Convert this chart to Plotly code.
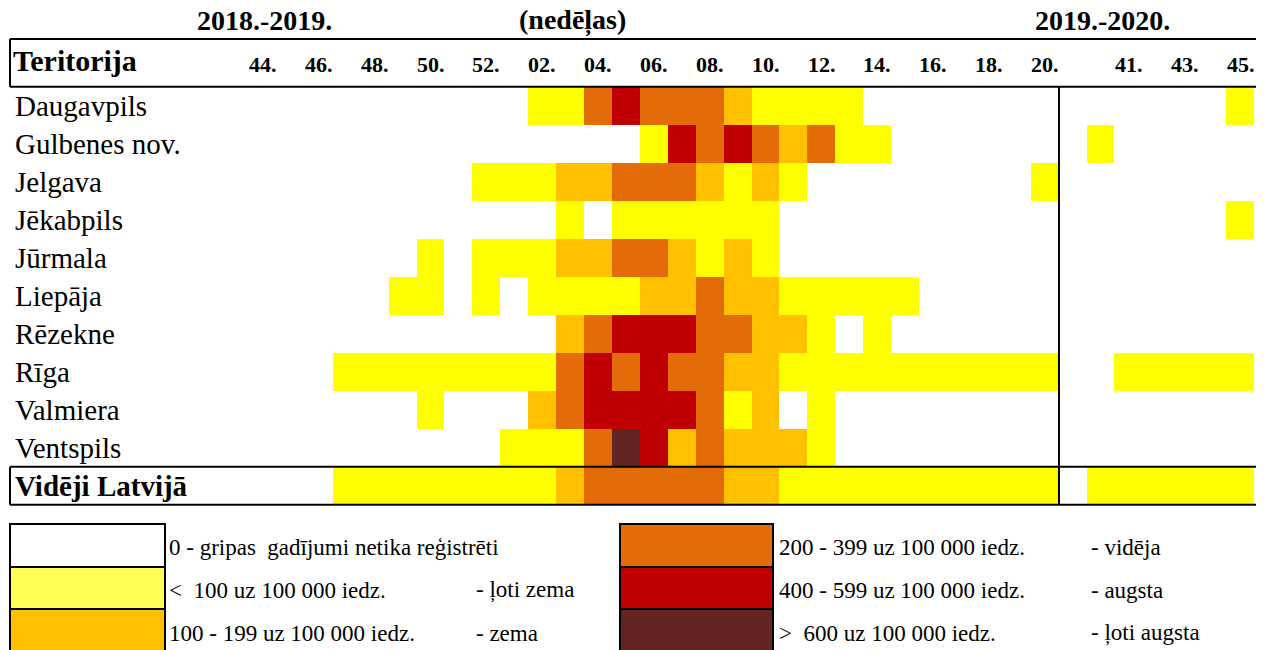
import plotly.graph_objects as go

# ---------------- data ----------------
territories = ["Daugavpils", "Gulbenes nov.", "Jelgava", "Jēkabpils", "Jūrmala",
               "Liepāja", "Rēzekne", "Rīga", "Valmiera", "Ventspils", "Vidēji Latvijā"]

weeks_1819 = ["44", "45", "46", "47", "48", "49", "50", "51", "52",
              "01", "02", "03", "04", "05", "06", "07", "08", "09", "10",
              "11", "12", "13", "14", "15", "16", "17", "18", "19", "20"]
weeks_1920 = ["40", "41", "42", "43", "44", "45"]

# intensity level per week: 0 none, 1 very low, 2 low, 3 medium, 4 high, 5 very high
daugavpils_1819 = [0,0,0,0,0,0,0,0,0,0, 1,1,3,4,3,3,3,2,1,1, 1,1,0,0,0,0,0,0,0]
gulbenes_1819   = [0,0,0,0,0,0,0,0,0,0, 0,0,0,0,1,4,3,4,3,2, 3,1,1,0,0,0,0,0,0]
jelgava_1819    = [0,0,0,0,0,0,0,0,1,1, 1,2,2,3,3,3,2,1,2,1, 0,0,0,0,0,0,0,0,1]
jekabpils_1819  = [0,0,0,0,0,0,0,0,0,0, 0,1,0,1,1,1,1,1,1,0, 0,0,0,0,0,0,0,0,0]
jurmala_1819    = [0,0,0,0,0,0,1,0,1,1, 1,2,2,3,3,2,1,2,1,0, 0,0,0,0,0,0,0,0,0]
liepaja_1819    = [0,0,0,0,0,1,1,0,1,0, 1,1,1,1,2,2,3,2,2,1, 1,1,1,1,0,0,0,0,0]
rezekne_1819    = [0,0,0,0,0,0,0,0,0,0, 0,2,3,4,4,4,3,3,2,2, 1,0,1,0,0,0,0,0,0]
riga_1819       = [0,0,0,1,1,1,1,1,1,1, 1,3,4,3,4,3,3,2,2,1, 1,1,1,1,1,1,1,1,1]
valmiera_1819   = [0,0,0,0,0,0,1,0,0,0, 2,3,4,4,4,4,3,1,2,0, 1,0,0,0,0,0,0,0,0]
ventspils_1819  = [0,0,0,0,0,0,0,0,0,1, 1,1,3,5,4,2,3,2,2,2, 1,0,0,0,0,0,0,0,0]
latvija_1819    = [0,0,0,1,1,1,1,1,1,1, 1,2,3,3,3,3,3,2,2,1, 1,1,1,1,1,1,1,1,1]

daugavpils_1920 = [0,0,0,0,0,1]
gulbenes_1920   = [1,0,0,0,0,0]
jelgava_1920    = [0,0,0,0,0,0]
jekabpils_1920  = [0,0,0,0,0,1]
jurmala_1920    = [0,0,0,0,0,0]
liepaja_1920    = [0,0,0,0,0,0]
rezekne_1920    = [0,0,0,0,0,0]
riga_1920       = [0,1,1,1,1,1]
valmiera_1920   = [0,0,0,0,0,0]
ventspils_1920  = [0,0,0,0,0,0]
latvija_1920    = [1,1,1,1,1,1]

level_ranges = ["0 - gripas  gadījumi netika reģistrēti", "<  100 uz 100 000 iedz.",
                "100 - 199 uz 100 000 iedz.", "200 - 399 uz 100 000 iedz.",
                "400 - 599 uz 100 000 iedz.", ">  600 uz 100 000 iedz."]
level_names = ["", "- ļoti zema", "- zema", "- vidēja", "- augsta", "- ļoti augsta"]
level_colors = ["#FFFFFF", "#FFFF00", "#FFC000", "#E36C09", "#C00000", "#632523"]
swatch_colors = ["#FFFFFF", "#FFFF55", "#FFC000", "#E36C09", "#C00000", "#632523"]

rows_1819 = [daugavpils_1819, gulbenes_1819, jelgava_1819, jekabpils_1819, jurmala_1819,
             liepaja_1819, rezekne_1819, riga_1819, valmiera_1819, ventspils_1819, latvija_1819]
rows_1920 = [daugavpils_1920, gulbenes_1920, jelgava_1920, jekabpils_1920, jurmala_1920,
             liepaja_1920, rezekne_1920, riga_1920, valmiera_1920, ventspils_1920, latvija_1920]

# ---------------- layout geometry ----------------
W, H = 1270, 650
COL_W = 27.93
X0 = 249.0          # left pixel edge of first week column
ROW_H = 38.0
Y0 = 86.7           # top pixel edge of first territory row
FONT = "Liberation Serif, Times New Roman, serif"

n1 = len(weeks_1819)
gap = 1
n2 = len(weeks_1920)
ncols = n1 + gap + n2

def px(p):
    return p / W

def py(p):
    return 1 - p / H

z = []
for r1, r2 in zip(rows_1819, rows_1920):
    z.append(list(r1) + [None] * gap + list(r2))

xs = list(range(ncols))
ys = list(range(len(territories)))

nlev = len(level_colors)
colorscale = []
for k, c in enumerate(level_colors):
    colorscale.append([k / nlev, c])
    colorscale.append([(k + 1) / nlev, c])

fig = go.Figure()
fig.add_trace(go.Heatmap(
    x=xs, y=ys, z=z, zmin=-0.5, zmax=nlev - 0.5,
    colorscale=colorscale, showscale=False, hoverinfo="skip",
))

x_range = [(0 - X0) / COL_W - 0.5, (W - X0) / COL_W - 0.5]
y_range = [(H - Y0) / ROW_H - 0.5, (0 - Y0) / ROW_H - 0.5]

annotations = []
# titles
annotations.append(dict(text="<b>2018.-2019.</b>", x=px(264), y=py(21), xref="paper", yref="paper",
                        showarrow=False, font=dict(size=28, family=FONT, color="black"),
                        xanchor="center", yanchor="middle"))
annotations.append(dict(text="<b>(nedēļas)</b>", x=px(572), y=py(21), xref="paper", yref="paper",
                        showarrow=False, font=dict(size=28, family=FONT, color="black"),
                        xanchor="center", yanchor="middle"))
annotations.append(dict(text="<b>2019.-2020.</b>", x=px(1102), y=py(21), xref="paper", yref="paper",
                        showarrow=False, font=dict(size=28, family=FONT, color="black"),
                        xanchor="center", yanchor="middle"))
annotations.append(dict(text="<b>Teritorija</b>", x=px(11), y=py(61), xref="paper", yref="paper",
                        showarrow=False, font=dict(size=30, family=FONT, color="black"),
                        xanchor="left", yanchor="middle"))

# week labels (every second week)
for i, w in enumerate(weeks_1819):
    if i % 2 == 0:
        annotations.append(dict(text="<b>%s.</b>" % w, x=i, y=py(65), xref="x", yref="paper",
                                showarrow=False, font=dict(size=22, family=FONT, color="black"),
                                xanchor="center", yanchor="middle"))
for j, w in enumerate(weeks_1920):
    if j % 2 == 1:
        annotations.append(dict(text="<b>%s.</b>" % w, x=n1 + gap + j, y=py(65), xref="x", yref="paper",
                                showarrow=False, font=dict(size=22, family=FONT, color="black"),
                                xanchor="center", yanchor="middle"))

# territory labels
for r, name in enumerate(territories):
    last = r == len(territories) - 1
    annotations.append(dict(text=("<b>%s</b>" % name) if last else name, x=px(13), y=r,
                            xref="paper", yref="y", showarrow=False,
                            font=dict(size=29, family=FONT, color="black"),
                            xanchor="left", yanchor="middle"))

shapes = []
LINE = dict(color="black", width=2)
# header box
shapes.append(dict(type="line", xref="paper", yref="paper", x0=px(10), x1=px(1256), y0=py(39), y1=py(39), line=LINE))
shapes.append(dict(type="line", xref="paper", yref="y", x0=px(10), x1=px(1256), y0=-0.5, y1=-0.5, line=LINE))
shapes.append(dict(type="line", xref="paper", yref="paper", x0=px(10), x1=px(10), y0=py(39), y1=py(Y0), line=LINE))
# average row box
last_r = len(territories) - 1
shapes.append(dict(type="line", xref="paper", yref="y", x0=px(10), x1=px(1256), y0=last_r - 0.5, y1=last_r - 0.5, line=LINE))
shapes.append(dict(type="line", xref="paper", yref="y", x0=px(10), x1=px(1256), y0=last_r + 0.5, y1=last_r + 0.5, line=LINE))
shapes.append(dict(type="line", xref="paper", yref="y", x0=px(10), x1=px(10), y0=last_r - 0.5, y1=last_r + 0.5, line=LINE))
# season separator
shapes.append(dict(type="line", xref="x", yref="y", x0=n1 - 0.5, x1=n1 - 0.5, y0=-0.5, y1=last_r + 0.5, line=LINE))

# legend swatches + text
sw_top = [524, 567, 609]
sw_bot = [567, 609, 652]
text_y = [547, 590, 633]
for k in range(nlev):
    col = k // 3
    row = k % 3
    bx0, bx1 = (10, 165) if col == 0 else (620, 773)
    tx = 167 if col == 0 else 777
    nx = 474 if col == 0 else 1089
    shapes.append(dict(type="rect", xref="paper", yref="paper", x0=px(bx0), x1=px(bx1),
                       y0=py(sw_top[row]), y1=py(sw_bot[row]), fillcolor=swatch_colors[k],
                       line=dict(color="black", width=2)))
    annotations.append(dict(text=level_ranges[k], x=px(tx), y=py(text_y[row]), xref="paper", yref="paper",
                            showarrow=False, font=dict(size=23, family=FONT, color="black"),
                            xanchor="left", yanchor="middle"))
    if level_names[k]:
        annotations.append(dict(text=level_names[k], x=px(nx), y=py(text_y[row]), xref="paper", yref="paper",
                                showarrow=False, font=dict(size=23, family=FONT, color="black"),
                                xanchor="left", yanchor="middle"))

fig.update_layout(
    width=W, height=H,
    margin=dict(l=0, r=0, t=0, b=0),
    paper_bgcolor="white", plot_bgcolor="white",
    xaxis=dict(range=x_range, visible=False, showgrid=False, zeroline=False, fixedrange=True),
    yaxis=dict(range=y_range, visible=False, showgrid=False, zeroline=False, fixedrange=True),
    annotations=annotations, shapes=shapes, showlegend=False,
)

fig.write_html("out.html", config={"displayModeBar": False, "staticPlot": True},
               post_script="document.body.style.margin='0';document.body.style.overflow='hidden';")
